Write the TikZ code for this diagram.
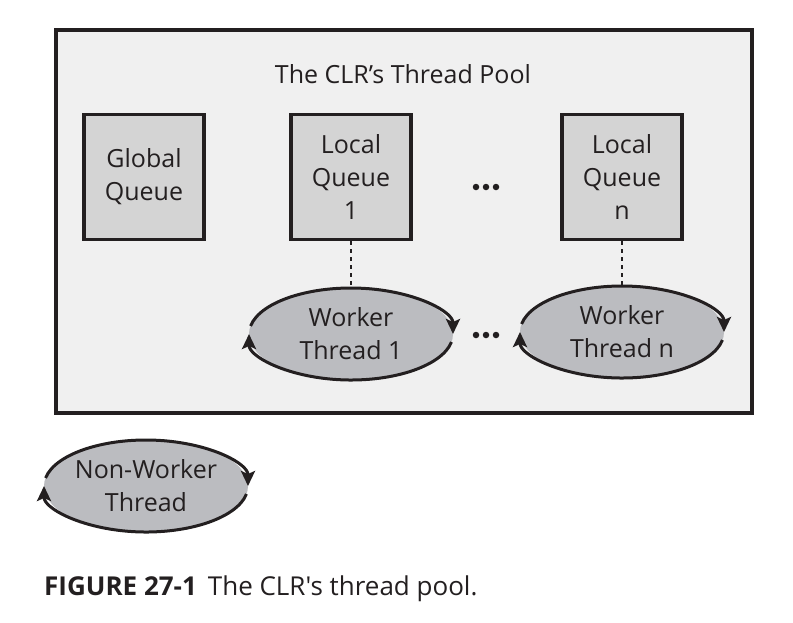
\documentclass[tikz,border=0pt]{standalone}
\usepackage{fontspec}
\setmainfont{Open Sans}
\newfontfamily\capfont{Open Sans}
\usetikzlibrary{arrows.meta,shapes.geometric}
\definecolor{ink}{HTML}{231F20}
\definecolor{poolfill}{HTML}{F0F0F0}
\definecolor{qfill}{HTML}{D4D4D4}
\definecolor{tfill}{HTML}{BBBCC0}
\tikzset{
  txt/.style={font=\fontsize{25}{33}\selectfont, text=ink, align=center},
  queuebox/.style={txt, draw=ink, line width=3.5pt, fill=qfill, minimum width=120pt, minimum height=125pt, inner sep=0pt},
  thread/.style={txt, ellipse, fill=tfill, minimum width=204pt, minimum height=94pt, inner sep=0pt},
  cyc/.style={draw=ink, line width=3pt, -{Stealth[length=15pt,width=14pt,inset=3pt]}},
  link/.style={draw=ink, line width=1.4pt, dash pattern=on 4pt off 4pt},
  dots/.style={fill=ink, circle, inner sep=0pt, minimum size=6.5pt}
}
\begin{document}
\begin{tikzpicture}[x=1pt,y=-1pt]
\useasboundingbox (0,0) rectangle (793,622);
\node[draw=ink, line width=3.5pt, fill=poolfill, minimum width=696pt, minimum height=383pt, inner sep=0pt] (pool) at (404,221.5) {};
\node[txt] (title) at (403,74) {The CLR’s Thread Pool};
\node[queuebox] (gq) at (144,177) {Global\\Queue};
\node[queuebox] (lq1) at (351,177) {Local\\Queue\\1};
\node[queuebox] (lqn) at (622,177) {Local\\Queue\\n};
\node[thread] (w1) at (351,334) {Worker\\Thread 1};
\node[thread] (wn) at (622,332) {Worker\\Thread n};
\node[thread] (nw) at (146,486) {Non-Worker\\Thread};
\foreach \n in {w1,wn,nw}{
  \draw[cyc] (\n.center) ++(190:102 and 46) arc[start angle=190, end angle=360, x radius=102, y radius=46];
  \draw[cyc] (\n.center) ++(10:102 and 46) arc[start angle=10, end angle=180, x radius=102, y radius=46];
}
\draw[link] (lq1.south) -- (w1.north);
\draw[link] (lqn.south) -- (wn.north);
\node[dots] (d1a) at (476,187) {};
\node[dots] (d1b) at (486,187) {};
\node[dots] (d1c) at (496,187) {};
\node[dots] (d2a) at (476,335) {};
\node[dots] (d2b) at (486,335) {};
\node[dots] (d2c) at (496,335) {};
\node[font=\capfont\fontsize{26}{30}\selectfont, text=ink, anchor=base west, inner sep=0pt] (cap) at (44,595) {\textbf{FIGURE 27-1}\hspace{11pt}The CLR's thread pool.};
\end{tikzpicture}
\end{document}
